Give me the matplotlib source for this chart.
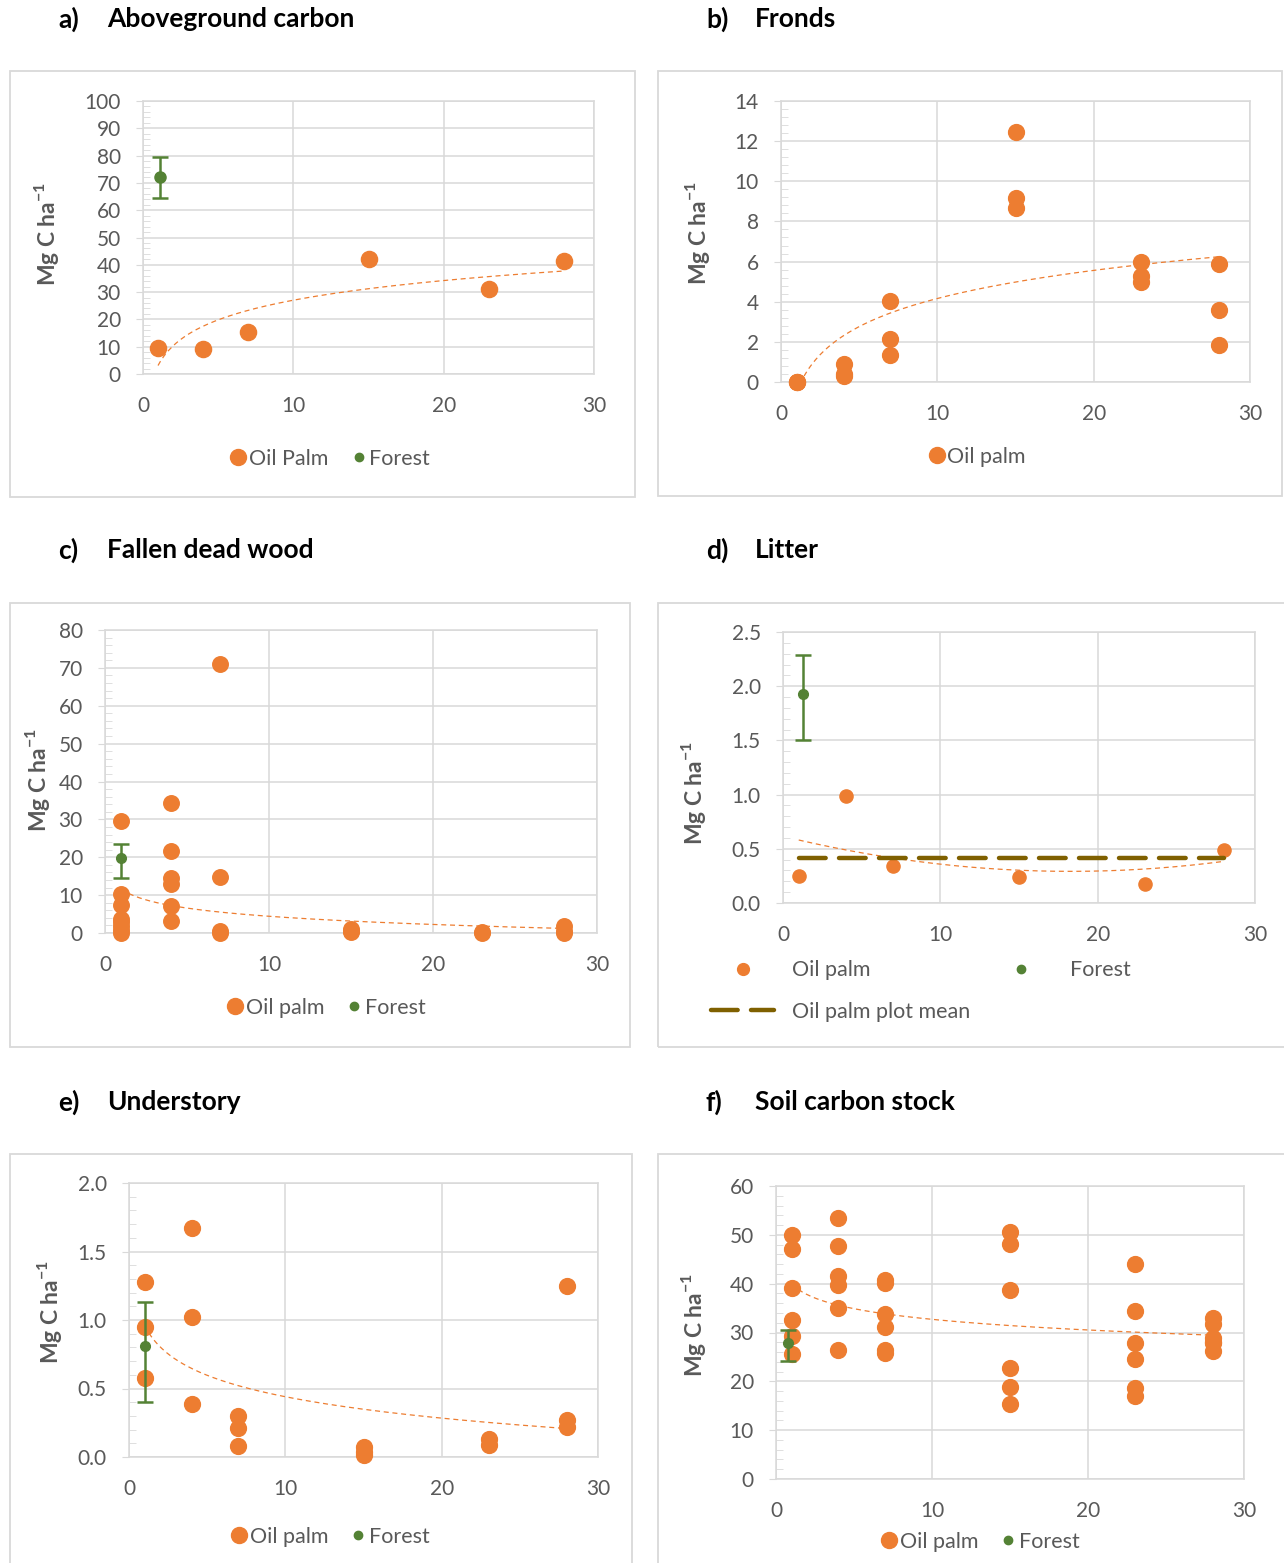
import numpy as np
import matplotlib.pyplot as plt
from matplotlib.lines import Line2D
from matplotlib.patches import Rectangle
from matplotlib.ticker import MultipleLocator, FormatStrFormatter

W, H = 1284, 1563
ORANGE = "#ED7D31"
GREEN = "#548235"
OLIVE = "#7F6000"
GREY = "#595959"
GRID = "#D9D9D9"

plt.rcParams["font.family"] = ["Lato", "DejaVu Sans"]

# a) Aboveground carbon
agc_age = [1, 4, 7, 15, 23, 28]
agc_val = [9.5, 9.3, 15.3, 42.0, 31.0, 41.5]
agc_forest = [1.1, 72.2, 64.3, 79.6]  # age, mean, low, high

# b) Fronds
fr_age = [1, 1, 1, 4, 4, 4, 7, 7, 7, 15, 15, 15, 23, 23, 23, 28, 28, 28]
fr_val = [0.0, 0.0, 0.0, 0.91, 0.4, 0.3, 4.06, 2.12, 1.33, 12.46, 9.15, 8.66,
          5.96, 5.3, 4.97, 5.88, 3.6, 1.86]

# c) Fallen dead wood
dw_age = [1, 1, 1, 1, 1, 1, 1, 1, 4, 4, 4, 4, 4, 4, 7, 7, 7, 7,
          15, 15, 15, 23, 23, 28, 28, 28]
dw_val = [29.5, 10.2, 7.5, 3.8, 2.8, 1.8, 0.8, 0.1, 34.2, 21.6, 14.6, 12.9, 7.2, 3.2,
          71.0, 14.8, 0.6, 0.0, 1.0, 0.5, 0.2, 0.2, 0.0, 1.8, 0.5, 0.0]
dw_forest = [1.0, 19.7, 14.6, 23.6]
dw_trend = [11.6, -3.12]  # log trendline as printed: intercept, slope

# d) Litter
lt_age = [1, 4, 7, 15, 23, 28]
lt_val = [0.25, 0.99, 0.34, 0.24, 0.175, 0.49]
lt_forest = [1.3, 1.93, 1.5, 2.29]

# e) Understory
us_age = [1, 1, 1, 4, 4, 4, 7, 7, 7, 15, 15, 15, 23, 23, 28, 28, 28]
us_val = [1.28, 0.95, 0.58, 1.67, 1.02, 0.385, 0.30, 0.21, 0.078, 0.073, 0.04, 0.012,
          0.13, 0.085, 1.25, 0.27, 0.22]
us_forest = [1.0, 0.81, 0.40, 1.13]

# f) Soil carbon stock
sc_age = [1] * 6 + [4] * 6 + [7] * 6 + [15] * 6 + [23] * 6 + [28] * 6
sc_val = [50.0, 47.2, 39.1, 32.6, 29.2, 25.6,
          53.4, 47.8, 41.6, 39.7, 35.0, 26.4,
          40.8, 40.1, 33.7, 31.1, 26.4, 25.8,
          50.6, 48.1, 38.7, 22.7, 18.8, 15.4,
          44.0, 34.4, 27.8, 24.6, 18.6, 17.0,
          32.9, 31.7, 28.8, 27.9, 28.0, 26.2]
sc_forest = [0.8, 27.8, 24.2, 30.6]

fig = plt.figure(figsize=(W / 100, H / 100), dpi=100)


def px_axes(x0, x30, y0, ytop):
    return fig.add_axes([x0 / W, 1 - y0 / H, (x30 - x0) / W, (y0 - ytop) / H])


def frame(x0, y0, x1, y1):
    fig.patches.append(Rectangle((x0 / W, 1 - y1 / H), (x1 - x0) / W, (y1 - y0) / H,
                                 transform=fig.transFigure, fill=False, ec=GRID, lw=1.3))


def title(x, y, tag, name):
    fig.text(x / W, 1 - y / H, tag, fontsize=19, fontweight="bold", va="center")
    fig.text((x + 49) / W, 1 - y / H, name, fontsize=19, fontweight="bold", va="center")


def ylab(x, y):
    fig.text(x / W, 1 - y / H, "Mg C ha$^{\\mathregular{-1}}$", rotation=90, fontsize=16.5,
             fontweight="bold", color=GREY, ha="center", va="center")


def style(ax, ymax, major, fmt):
    ax.set_xlim(0, 30)
    ax.set_ylim(0, ymax)
    ax.set_xticks([0, 10, 20, 30])
    ax.yaxis.set_major_locator(MultipleLocator(major))
    ax.yaxis.set_minor_locator(MultipleLocator(major / 5))
    ax.yaxis.set_major_formatter(FormatStrFormatter(fmt))
    ax.grid(True, which="major", color=GRID, lw=1.1)
    ax.set_axisbelow(True)
    for s in ax.spines.values():
        s.set_color(GRID)
        s.set_linewidth(1.1)
    ax.tick_params(axis="x", length=0, pad=16, labelsize=15, labelcolor=GREY)
    ax.tick_params(axis="y", which="major", length=5, color=GRID, pad=11,
                   labelsize=15, labelcolor=GREY)
    ax.tick_params(axis="y", which="minor", length=5, color=GRID, direction="in")


def trend_line(ax, x, a, b):
    xs = np.linspace(min(x), max(x), 200)
    ax.plot(xs, a + b * np.log(xs), color=ORANGE, lw=0.9, ls=(0, (4, 3)), zorder=4)


def log_trend(ax, x, y):
    b, a = np.polyfit(np.log(x), y, 1)
    trend_line(ax, x, a, b)


def forest(ax, f, size):
    ax.errorbar([f[0]], [f[1]], yerr=[[f[1] - f[2]], [f[3] - f[1]]], fmt="o", color=GREEN,
                ms=size, elinewidth=1.8, capsize=6, capthick=1.8, zorder=5)


def legend(ax, cx, cy, names, big=11.5, small=6):
    hs = [Line2D([], [], ls="", marker="o", color=ORANGE, ms=big)]
    if len(names) > 1:
        hs.append(Line2D([], [], ls="", marker="o", color=GREEN, ms=small))
    ax.legend(hs, names, loc="center", bbox_to_anchor=(cx / W, 1 - cy / H),
              bbox_transform=fig.transFigure, ncol=len(names), frameon=False,
              fontsize=15.5, labelcolor=GREY, handletextpad=0.1, columnspacing=1.0,
              handlelength=0.8)


# a
frame(10, 71, 635, 497)
title(58, 19, "a)", "Aboveground carbon")
ax = px_axes(143, 594, 374, 101)
style(ax, 100, 10, "%d")
ax.scatter(agc_age, agc_val, s=135, color=ORANGE, zorder=3)
log_trend(ax, agc_age, agc_val)
forest(ax, agc_forest, 8)
ylab(47, 234)
legend(ax, 330, 459, ["Oil Palm", "Forest"])

# b
frame(658, 71, 1282, 496)
title(706, 19, "b)", "Fronds")
ax = px_axes(781, 1250, 382, 101)
style(ax, 14, 2, "%d")
ax.scatter(fr_age, fr_val, s=130, color=ORANGE, zorder=3, clip_on=False)
log_trend(ax, fr_age, fr_val)
ax.set_ylim(0, 14)
ylab(697, 233)
legend(ax, 977, 457, ["Oil palm"])

# c
frame(10, 603, 630, 1047)
title(58, 550, "c)", "Fallen dead wood")
ax = px_axes(105, 597, 933, 630)
style(ax, 80, 10, "%d")
ax.scatter(dw_age, dw_val, s=125, color=ORANGE, zorder=3, clip_on=False)
trend_line(ax, dw_age, *dw_trend)
forest(ax, dw_forest, 7)
ylab(37, 780)
legend(ax, 326, 1008, ["Oil palm", "Forest"])

# d
frame(658, 603, 1300, 1047)
title(706, 550, "d)", "Litter")
ax = px_axes(783, 1255, 903, 632)
style(ax, 2.5, 0.5, "%.1f")
ax.scatter(lt_age, lt_val, s=90, color=ORANGE, zorder=3)
c2 = np.polyfit(lt_age, lt_val, 2)
xs = np.linspace(min(lt_age), max(lt_age), 200)
ax.plot(xs, np.polyval(c2, xs), color=ORANGE, lw=0.9, ls=(0, (4, 3)), zorder=4)
lt_mean = np.mean(lt_val)
ax.plot([min(lt_age), max(lt_age)], [lt_mean, lt_mean], color=OLIVE, lw=3.2,
        ls=(0, (6, 3)), solid_capstyle="round", dash_capstyle="round", zorder=4)
forest(ax, lt_forest, 7)
ylab(693, 793)
hs = [Line2D([], [], ls="", marker="o", color=ORANGE, ms=8.5),
      Line2D([], [], color=OLIVE, lw=3.2, ls=(0, (6, 3)), dash_capstyle="round"),
      Line2D([], [], ls="", marker="o", color=GREEN, ms=6)]
ax.legend(hs, ["Oil palm", "Oil palm plot mean", "Forest"], loc="upper left",
          bbox_to_anchor=(692 / W, 1 - 941 / H), bbox_transform=fig.transFigure,
          ncol=2, frameon=False, fontsize=15.5, labelcolor=GREY, handlelength=2.9,
          handletextpad=0.85, columnspacing=0.9, labelspacing=1.0)

# e
frame(10, 1154, 632, 1575)
title(58, 1102, "e)", "Understory")
ax = px_axes(129, 598, 1457, 1183)
style(ax, 2.0, 0.5, "%.1f")
ax.scatter(us_age, us_val, s=130, color=ORANGE, zorder=3, clip_on=False)
log_trend(ax, us_age, us_val)
forest(ax, us_forest, 7)
ylab(50, 1312)
legend(ax, 330, 1537, ["Oil palm", "Forest"])

# f
frame(658, 1154, 1300, 1575)
title(706, 1102, "f)", "Soil carbon stock")
ax = px_axes(776, 1244, 1479, 1186)
style(ax, 60, 10, "%d")
ax.scatter(sc_age, sc_val, s=130, color=ORANGE, zorder=3)
log_trend(ax, sc_age, sc_val)
forest(ax, sc_forest, 7)
ylab(693, 1325)
legend(ax, 980, 1542, ["Oil palm", "Forest"])

fig.savefig("out.png", dpi=100)
